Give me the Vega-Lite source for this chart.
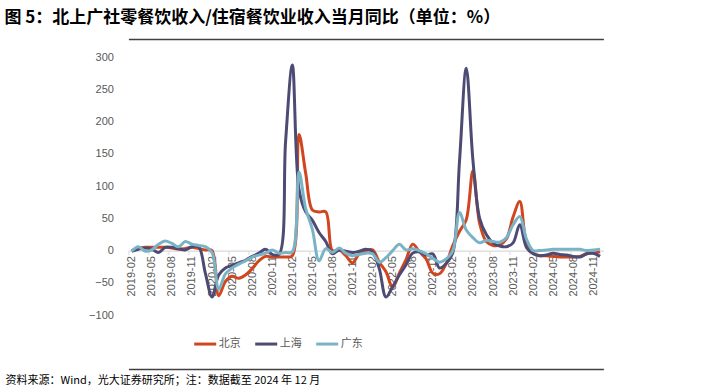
{
  "$schema": "https://vega.github.io/schema/vega-lite/v6.json",
  "width": 475,
  "height": 257.7,
  "autosize": {"type": "none"},
  "padding": {"left": 128.4, "top": 57.3, "right": 99.6, "bottom": 75},
  "background": "white",
  "config": {"view": {"stroke": null}, "font": "Liberation Sans"},
  "title": {
    "text": "图 5：北上广社零餐饮收入/住宿餐饮业收入当月同比（单位：%）",
    "anchor": "start",
    "frame": "group",
    "dx": -124,
    "offset": 12,
    "font": "Noto Sans CJK SC",
    "fontSize": 17,
    "fontWeight": "bold",
    "color": "#000000"
  },
  "data": {"values": [
    {"month":"2019-02","city":"北京","value":0},{"month":"2019-03","city":"北京","value":4},{"month":"2019-04","city":"北京","value":5},{"month":"2019-05","city":"北京","value":5},{"month":"2019-06","city":"北京","value":5},{"month":"2019-07","city":"北京","value":5},{"month":"2019-08","city":"北京","value":4},{"month":"2019-09","city":"北京","value":2},{"month":"2019-10","city":"北京","value":3},{"month":"2019-11","city":"北京","value":5},{"month":"2019-12","city":"北京","value":3},
    {"month":"2020-01","city":"北京","value":1},{"month":"2020-02","city":"北京","value":0},{"month":"2020-03","city":"北京","value":-70},{"month":"2020-04","city":"北京","value":-48},{"month":"2020-05","city":"北京","value":-40},{"month":"2020-06","city":"北京","value":-43},{"month":"2020-07","city":"北京","value":-38},{"month":"2020-08","city":"北京","value":-28},{"month":"2020-09","city":"北京","value":-16},{"month":"2020-10","city":"北京","value":-9},{"month":"2020-11","city":"北京","value":-10},{"month":"2020-12","city":"北京","value":-10},
    {"month":"2021-01","city":"北京","value":-10},{"month":"2021-02","city":"北京","value":-8},{"month":"2021-03","city":"北京","value":180},{"month":"2021-04","city":"北京","value":120},{"month":"2021-05","city":"北京","value":63},{"month":"2021-06","city":"北京","value":60},{"month":"2021-07","city":"北京","value":60},{"month":"2021-08","city":"北京","value":0},{"month":"2021-09","city":"北京","value":1},{"month":"2021-10","city":"北京","value":-8},{"month":"2021-11","city":"北京","value":-19},{"month":"2021-12","city":"北京","value":-5},
    {"month":"2022-01","city":"北京","value":0},{"month":"2022-02","city":"北京","value":1},{"month":"2022-03","city":"北京","value":-18},{"month":"2022-04","city":"北京","value":-33},{"month":"2022-05","city":"北京","value":-57},{"month":"2022-06","city":"北京","value":-35},{"month":"2022-07","city":"北京","value":-14},{"month":"2022-08","city":"北京","value":10},{"month":"2022-09","city":"北京","value":-2},{"month":"2022-10","city":"北京","value":-13},{"month":"2022-11","city":"北京","value":-35},{"month":"2022-12","city":"北京","value":-36},
    {"month":"2023-01","city":"北京","value":-20},{"month":"2023-02","city":"北京","value":8},{"month":"2023-03","city":"北京","value":30},{"month":"2023-04","city":"北京","value":48},{"month":"2023-05","city":"北京","value":124},{"month":"2023-06","city":"北京","value":42},{"month":"2023-07","city":"北京","value":14},{"month":"2023-08","city":"北京","value":8},{"month":"2023-09","city":"北京","value":9},{"month":"2023-10","city":"北京","value":18},{"month":"2023-11","city":"北京","value":52},{"month":"2023-12","city":"北京","value":76},
    {"month":"2024-01","city":"北京","value":12},{"month":"2024-02","city":"北京","value":-4},{"month":"2024-03","city":"北京","value":-8},{"month":"2024-04","city":"北京","value":-8},{"month":"2024-05","city":"北京","value":-9},{"month":"2024-06","city":"北京","value":-10},{"month":"2024-07","city":"北京","value":-10},{"month":"2024-08","city":"北京","value":-10},{"month":"2024-09","city":"北京","value":-9},{"month":"2024-10","city":"北京","value":-5},{"month":"2024-11","city":"北京","value":-4},{"month":"2024-12","city":"北京","value":-2},

    {"month":"2019-02","city":"上海","value":-1},{"month":"2019-03","city":"上海","value":2},{"month":"2019-04","city":"上海","value":4},{"month":"2019-05","city":"上海","value":2},{"month":"2019-06","city":"上海","value":-3},{"month":"2019-07","city":"上海","value":5},{"month":"2019-08","city":"上海","value":5},{"month":"2019-09","city":"上海","value":3},{"month":"2019-10","city":"上海","value":1},{"month":"2019-11","city":"上海","value":6},{"month":"2019-12","city":"上海","value":6},
    {"month":"2020-01","city":"上海","value":-35},{"month":"2020-02","city":"上海","value":-72},{"month":"2020-03","city":"上海","value":-38},{"month":"2020-04","city":"上海","value":-27},{"month":"2020-05","city":"上海","value":-23},{"month":"2020-06","city":"上海","value":-19},{"month":"2020-07","city":"上海","value":-15},{"month":"2020-08","city":"上海","value":-9},{"month":"2020-09","city":"上海","value":-4},{"month":"2020-10","city":"上海","value":2},{"month":"2020-11","city":"上海","value":-6},{"month":"2020-12","city":"上海","value":-6},
    {"month":"2021-01","city":"上海","value":170},{"month":"2021-02","city":"上海","value":288},{"month":"2021-03","city":"上海","value":95},{"month":"2021-04","city":"上海","value":60},{"month":"2021-05","city":"上海","value":47},{"month":"2021-06","city":"上海","value":28},{"month":"2021-07","city":"上海","value":14},{"month":"2021-08","city":"上海","value":-5},{"month":"2021-09","city":"上海","value":1},{"month":"2021-10","city":"上海","value":-1},{"month":"2021-11","city":"上海","value":-3},{"month":"2021-12","city":"上海","value":-1},
    {"month":"2022-01","city":"上海","value":2},{"month":"2022-02","city":"上海","value":-2},{"month":"2022-03","city":"上海","value":-28},{"month":"2022-04","city":"上海","value":-72},{"month":"2022-05","city":"上海","value":-56},{"month":"2022-06","city":"上海","value":-38},{"month":"2022-07","city":"上海","value":-22},{"month":"2022-08","city":"上海","value":-4},{"month":"2022-09","city":"上海","value":-2},{"month":"2022-10","city":"上海","value":-7},{"month":"2022-11","city":"上海","value":-5},{"month":"2022-12","city":"上海","value":-27},
    {"month":"2023-01","city":"上海","value":-20},{"month":"2023-02","city":"上海","value":-3},{"month":"2023-03","city":"上海","value":140},{"month":"2023-04","city":"上海","value":283},{"month":"2023-05","city":"上海","value":140},{"month":"2023-06","city":"上海","value":50},{"month":"2023-07","city":"上海","value":25},{"month":"2023-08","city":"上海","value":12},{"month":"2023-09","city":"上海","value":7},{"month":"2023-10","city":"上海","value":6},{"month":"2023-11","city":"上海","value":12},{"month":"2023-12","city":"上海","value":40},
    {"month":"2024-01","city":"上海","value":5},{"month":"2024-02","city":"上海","value":-5},{"month":"2024-03","city":"上海","value":-8},{"month":"2024-04","city":"上海","value":-7},{"month":"2024-05","city":"上海","value":-4},{"month":"2024-06","city":"上海","value":-6},{"month":"2024-07","city":"上海","value":-7},{"month":"2024-08","city":"上海","value":-9},{"month":"2024-09","city":"上海","value":-10},{"month":"2024-10","city":"上海","value":-5},{"month":"2024-11","city":"上海","value":-4},{"month":"2024-12","city":"上海","value":-9},

    {"month":"2019-02","city":"广东","value":-1},{"month":"2019-03","city":"广东","value":6},{"month":"2019-04","city":"广东","value":-1},{"month":"2019-05","city":"广东","value":1},{"month":"2019-06","city":"广东","value":10},{"month":"2019-07","city":"广东","value":15},{"month":"2019-08","city":"广东","value":11},{"month":"2019-09","city":"广东","value":6},{"month":"2019-10","city":"广东","value":14},{"month":"2019-11","city":"广东","value":10},{"month":"2019-12","city":"广东","value":8},
    {"month":"2020-01","city":"广东","value":6},{"month":"2020-02","city":"广东","value":-3},{"month":"2020-03","city":"广东","value":-60},{"month":"2020-04","city":"广东","value":-36},{"month":"2020-05","city":"广东","value":-27},{"month":"2020-06","city":"广东","value":-21},{"month":"2020-07","city":"广东","value":-16},{"month":"2020-08","city":"广东","value":-10},{"month":"2020-09","city":"广东","value":-7},{"month":"2020-10","city":"广东","value":-4},{"month":"2020-11","city":"广东","value":1},{"month":"2020-12","city":"广东","value":-4},
    {"month":"2021-01","city":"广东","value":-3},{"month":"2021-02","city":"广东","value":-2},{"month":"2021-03","city":"广东","value":122},{"month":"2021-04","city":"广东","value":65},{"month":"2021-05","city":"广东","value":33},{"month":"2021-06","city":"广东","value":-16},{"month":"2021-07","city":"广东","value":3},{"month":"2021-08","city":"广东","value":-3},{"month":"2021-09","city":"广东","value":4},{"month":"2021-10","city":"广东","value":-4},{"month":"2021-11","city":"广东","value":-8},{"month":"2021-12","city":"广东","value":-6},
    {"month":"2022-01","city":"广东","value":-4},{"month":"2022-02","city":"广东","value":-5},{"month":"2022-03","city":"广东","value":-18},{"month":"2022-04","city":"广东","value":-11},{"month":"2022-05","city":"广东","value":0},{"month":"2022-06","city":"广东","value":10},{"month":"2022-07","city":"广东","value":1},{"month":"2022-08","city":"广东","value":3},{"month":"2022-09","city":"广东","value":0},{"month":"2022-10","city":"广东","value":-5},{"month":"2022-11","city":"广东","value":-12},{"month":"2022-12","city":"广东","value":-18},
    {"month":"2023-01","city":"广东","value":-13},{"month":"2023-02","city":"广东","value":0},{"month":"2023-03","city":"广东","value":59},{"month":"2023-04","city":"广东","value":32},{"month":"2023-05","city":"广东","value":20},{"month":"2023-06","city":"广东","value":12},{"month":"2023-07","city":"广东","value":16},{"month":"2023-08","city":"广东","value":14},{"month":"2023-09","city":"广东","value":13},{"month":"2023-10","city":"广东","value":20},{"month":"2023-11","city":"广东","value":40},{"month":"2023-12","city":"广东","value":53},
    {"month":"2024-01","city":"广东","value":18},{"month":"2024-02","city":"广东","value":0},{"month":"2024-03","city":"广东","value":0},{"month":"2024-04","city":"广东","value":1},{"month":"2024-05","city":"广东","value":2},{"month":"2024-06","city":"广东","value":2},{"month":"2024-07","city":"广东","value":2},{"month":"2024-08","city":"广东","value":2},{"month":"2024-09","city":"广东","value":2},{"month":"2024-10","city":"广东","value":0},{"month":"2024-11","city":"广东","value":1},{"month":"2024-12","city":"广东","value":2}
  ]},
  "layer": [
    {
      "mark": {"type": "point", "opacity": 0},
      "encoding": {
        "x": {
          "field": "month", "type": "ordinal", "sort": null,
          "scale": {"type": "point", "padding": 0.5},
          "axis": {"orient": "bottom", "offset": 54, "labels": false, "ticks": false, "title": null, "grid": false, "domain": true, "domainColor": "#404040", "domainWidth": 1.5}
        }
      }
    },
    {
      "mark": {"type": "point", "opacity": 0},
      "encoding": {
        "x": {
          "field": "month", "type": "ordinal", "sort": null,
          "axis": {"orient": "top", "offset": 18.3, "labels": false, "ticks": false, "title": null, "grid": false, "domainColor": "#404040", "domainWidth": 1.5}
        }
      }
    },
    {
      "mark": {"type": "line", "interpolate": "catmull-rom", "strokeWidth": 3},
      "encoding": {
        "x": {
          "field": "month", "type": "ordinal", "sort": null,
          "scale": {"type": "point", "padding": 0.5},
          "axis": {
            "orient": "bottom",
            "offset": -64.4,
            "values": ["2019-02","2019-05","2019-08","2019-11","2020-02","2020-05","2020-08","2020-11","2021-02","2021-05","2021-08","2021-11","2022-02","2022-05","2022-08","2022-11","2023-02","2023-05","2023-08","2023-11","2024-02","2024-05","2024-08","2024-11"],
            "labelAngle": -90,
            "labelFont": "Liberation Sans",
            "labelFontSize": 11,
            "labelColor": "#595959",
            "labelPadding": 1,
            "labelOffset": 3.35,
            "tickOffset": -3.35,
            "tickSize": 4,
            "tickColor": "#d9d9d9",
            "domainColor": "#d9d9d9",
            "domainWidth": 1.2,
            "grid": false,
            "title": "资料来源：Wind，光大证券研究所；注：数据截至 2024 年 12 月",
            "titleX": -123.4, "titleY": 133.3, "titleAlign": "left", "titleAnchor": "start", "titleBaseline": "alphabetic", "titleAngle": 0,
            "titleFont": "Noto Sans CJK SC", "titleFontSize": 11, "titleFontWeight": "normal", "titleColor": "#000000"
          }
        },
        "y": {
          "field": "value", "type": "quantitative",
          "scale": {"domain": [-100, 300], "nice": false, "zero": false},
          "axis": {
            "title": null,
            "values": [-100, -50, 0, 50, 100, 150, 200, 250, 300],
            "domain": false,
            "ticks": false,
            "grid": false,
            "labelFont": "Liberation Sans",
            "labelFontSize": 11,
            "labelColor": "#595959",
            "labelPadding": 15
          }
        },
        "color": {
          "field": "city", "type": "nominal",
          "scale": {"domain": ["北京", "上海", "广东"], "range": ["#D0461F", "#4D4B73", "#7BB3C6"]},
          "legend": {
            "orient": "none",
            "legendX": 64.3,
            "legendY": 274,
            "direction": "horizontal",
            "title": null,
            "symbolType": "stroke",
            "symbolStrokeWidth": 3,
            "symbolSize": 484,
            "labelFont": "Noto Sans CJK SC",
            "labelFontSize": 11,
            "labelColor": "#595959",
            "labelOffset": 1,
            "columnPadding": 8
          }
        }
      }
    }
  ],
  "resolve": {"axis": {"x": "independent"}}
}
